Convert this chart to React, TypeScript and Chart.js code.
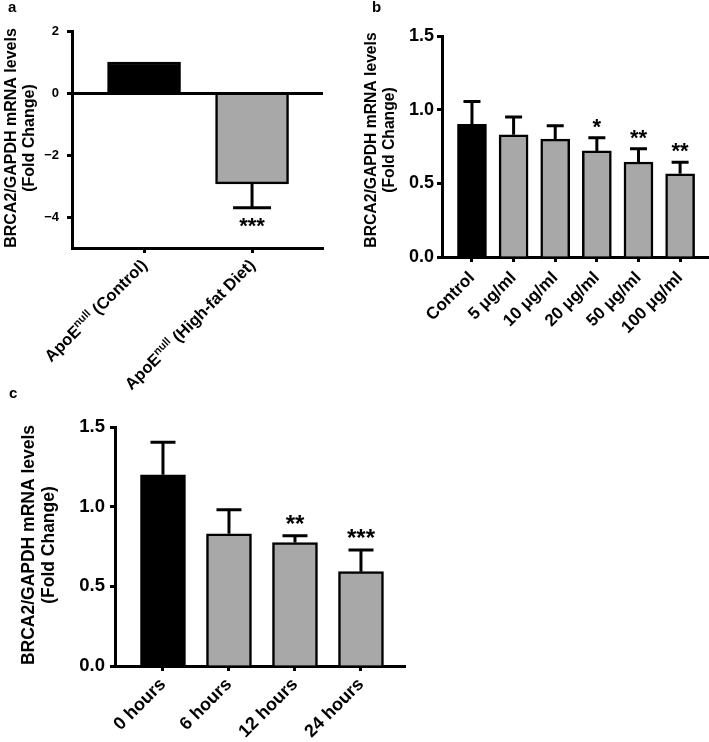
import React, { useEffect, useRef } from 'react';
import { Chart, registerables } from 'chart.js';

Chart.register(...registerables);

const FONT = '"Liberation Sans", Arial, Helvetica, sans-serif';
const GRAY = '#a8a8a8';

// ---------- Panel a ----------
const aLabelMain = ['ApoE', 'ApoE'];
const aLabelSup = ['null', 'null'];
const aLabelRest = [' (Control)', ' (High-fat Diet)'];
const aValues = [1.0, -2.93];
const aErrors = [0, 0.77];
const aStars = ['', '***'];
const aYTicks = [2, 0, -2, -4];

// ---------- Panel b ----------
const bCategories = ['Control', '5 μg/ml', '10 μg/ml', '20 μg/ml', '50 μg/ml', '100 μg/ml'];
const bValues = [0.9, 0.83, 0.8, 0.72, 0.645, 0.565];
const bErrors = [0.155, 0.12, 0.09, 0.09, 0.09, 0.078];
const bStars = ['', '', '', '*', '**', '**'];
const bYTicks = [0, 0.5, 1.0, 1.5];

// ---------- Panel c ----------
const cCategories = ['0 hours', '6 hours', '12 hours', '24 hours'];
const cValues = [1.2, 0.83, 0.775, 0.592];
const cErrors = [0.205, 0.15, 0.042, 0.136];
const cStars = ['', '', '**', '***'];
const cYTicks = [0, 0.5, 1.0, 1.5];

const TITLE_LINES = ['BRCA2/GAPDH mRNA levels', '(Fold Change)'];

type Spec = {
  x: number; y: number; w: number; h: number;
  area: { l: number; r: number; t: number; b: number };
  xMin: number; xMax: number; yMin: number; yMax: number;
  yTicks: number[];
  yFmt: (v: number) => string;
  values: number[]; errors: number[]; stars: string[];
  xLabels: string[] | null;
  custom?: { main: string[]; sup: string[]; rest: string[]; size: number; supSize: number; dx: number; dy: number };
  barWidth: number; barBorder: number; capWidth: number;
  tickSize: number; yTickPad: number; xTickSize: number; xTickPad: number;
  starSize: number; starGap: number;
  titleSize: number; titleX: [number, number]; titleCY: number;
  letter: string; letterX: number; letterY: number;
  zeroLine: boolean;
};

function makeDeco(s: Spec) {
  return {
    id: 'panelDeco',
    afterDatasetsDraw(chart: any) {
      const ctx: CanvasRenderingContext2D = chart.ctx;
      const ys = chart.scales.y;
      const area = chart.chartArea;
      ctx.save();
      ctx.strokeStyle = '#000';
      ctx.fillStyle = '#000';
      if (s.zeroLine) {
        const y0 = Math.round(ys.getPixelForValue(0)) + 0.5;
        ctx.lineWidth = 3;
        ctx.beginPath();
        ctx.moveTo(area.left, y0);
        ctx.lineTo(area.right, y0);
        ctx.stroke();
      }
      const meta = chart.getDatasetMeta(0);
      meta.data.forEach((el: any, i: number) => {
        const v = s.values[i];
        const e = s.errors[i];
        const dir = v >= 0 ? 1 : -1;
        const x = el.x;
        const yTop = ys.getPixelForValue(v);
        const yErr = ys.getPixelForValue(v + dir * e);
        if (e > 0) {
          ctx.lineWidth = 3;
          ctx.beginPath();
          ctx.moveTo(x, yTop);
          ctx.lineTo(x, yErr);
          ctx.moveTo(x - s.capWidth / 2, yErr);
          ctx.lineTo(x + s.capWidth / 2, yErr);
          ctx.stroke();
        }
        const st = s.stars[i];
        if (st) {
          ctx.font = `bold ${s.starSize}px ${FONT}`;
          ctx.textAlign = 'center';
          ctx.textBaseline = 'alphabetic';
          const m = ctx.measureText(st);
          if (dir > 0) {
            const bottom = yErr - s.starGap;
            ctx.fillText(st, x, bottom - m.actualBoundingBoxDescent);
          } else {
            const top = yErr + s.starGap;
            ctx.fillText(st, x, top + m.actualBoundingBoxAscent);
          }
        }
      });
      ctx.restore();
    },
    afterDraw(chart: any) {
      const ctx: CanvasRenderingContext2D = chart.ctx;
      ctx.save();
      ctx.fillStyle = '#000';
      // axis title
      ctx.font = `bold ${s.titleSize}px ${FONT}`;
      ctx.textAlign = 'center';
      ctx.textBaseline = 'middle';
      TITLE_LINES.forEach((t, k) => {
        ctx.save();
        ctx.translate(s.titleX[k], s.titleCY);
        ctx.rotate(-Math.PI / 2);
        ctx.fillText(t, 0, 0);
        ctx.restore();
      });
      // panel letter
      ctx.font = `bold 15px ${FONT}`;
      ctx.textAlign = 'left';
      ctx.textBaseline = 'alphabetic';
      ctx.fillText(s.letter, s.letterX, s.letterY);
      // custom rotated labels with superscript
      if (s.custom) {
        const c = s.custom;
        const xs = chart.scales.x;
        const bottom = chart.chartArea.bottom;
        c.main.forEach((mainT, i) => {
          const px = xs.getPixelForValue(i);
          ctx.save();
          ctx.translate(px + c.dx, bottom + c.dy);
          ctx.rotate(-Math.PI / 4);
          ctx.textBaseline = 'alphabetic';
          ctx.textAlign = 'right';
          ctx.font = `bold ${c.size}px ${FONT}`;
          const wRest = ctx.measureText(c.rest[i]).width;
          ctx.fillText(c.rest[i], 0, 0);
          ctx.font = `bold ${c.supSize}px ${FONT}`;
          const wSup = ctx.measureText(c.sup[i]).width;
          ctx.fillText(c.sup[i], -wRest, -c.size * 0.38);
          ctx.font = `bold ${c.size}px ${FONT}`;
          ctx.fillText(mainT, -wRest - wSup, 0);
          ctx.restore();
        });
      }
      ctx.restore();
    },
  };
}

function buildConfig(s: Spec): any {
  const data = s.values.map((v, i) => ({ x: i, y: v }));
  return {
    type: 'bar',
    data: {
      datasets: [
        {
          data,
          backgroundColor: s.values.map((_, i) => (i === 0 ? '#000000' : GRAY)),
          borderColor: '#000000',
          borderWidth: s.barBorder,
          barThickness: s.barWidth,
        },
      ],
    },
    options: {
      responsive: false,
      animation: false,
      devicePixelRatio: 1,
      layout: { padding: { left: 0, top: s.area.t, right: s.w - s.area.r, bottom: 0 } },
      plugins: { legend: { display: false }, tooltip: { enabled: false }, title: { display: false } },
      scales: {
        x: {
          type: 'linear',
          min: s.xMin,
          max: s.xMax,
          offset: false,
          afterFit: (sc: any) => { sc.height = s.h - s.area.b; },
          afterBuildTicks: (sc: any) => { sc.ticks = s.values.map((_, i) => ({ value: i })); },
          grid: { offset: false, drawOnChartArea: false, drawTicks: true, tickLength: 5, tickWidth: 3, tickColor: '#000' },
          border: { display: true, width: 3, color: '#000' },
          ticks: {
            autoSkip: false,
            minRotation: 45,
            maxRotation: 45,
            padding: s.xTickPad,
            color: '#000',
            font: { family: FONT, size: s.xTickSize, weight: 'bold' },
            callback: (_v: any, i: number) => (s.xLabels ? s.xLabels[i] ?? '' : ''),
          },
        },
        y: {
          type: 'linear',
          min: s.yMin,
          max: s.yMax,
          afterFit: (sc: any) => { sc.width = s.area.l; },
          afterBuildTicks: (sc: any) => { sc.ticks = s.yTicks.map((v) => ({ value: v })); },
          grid: { drawOnChartArea: false, drawTicks: true, tickLength: 5, tickWidth: 3, tickColor: '#000' },
          border: { display: true, width: 3, color: '#000' },
          ticks: {
            padding: s.yTickPad,
            color: '#000',
            font: { family: FONT, size: s.tickSize, weight: 'bold' },
            callback: (v: any) => s.yFmt(Number(v)),
          },
        },
      },
    },
    plugins: [makeDeco(s)],
  };
}

const specA: Spec = {
  x: 0, y: 0, w: 360, h: 400,
  area: { l: 72, r: 323, t: 31, b: 248 },
  xMin: -0.667, xMax: 1.657, yMin: -5, yMax: 2,
  yTicks: aYTicks,
  yFmt: (v) => (v < 0 ? '\u2212' + Math.abs(v) : String(v)),
  values: aValues, errors: aErrors, stars: aStars,
  xLabels: null,
  custom: { main: aLabelMain, sup: aLabelSup, rest: aLabelRest, size: 16.5, supSize: 11, dx: 4, dy: 18 },
  barWidth: 73, barBorder: 2.5, capWidth: 38,
  tickSize: 13, yTickPad: 8, xTickSize: 15, xTickPad: 2,
  starSize: 22, starGap: 10,
  titleSize: 16, titleX: [12, 30], titleCY: 138,
  letter: 'a', letterX: 8, letterY: 12,
  zeroLine: true,
};

const specB: Spec = {
  x: 360, y: 0, w: 349, h: 380,
  area: { l: 82, r: 348, t: 36, b: 257 },
  xMin: -0.72, xMax: 5.67, yMin: 0, yMax: 1.5,
  yTicks: bYTicks,
  yFmt: (v) => v.toFixed(1),
  values: bValues, errors: bErrors, stars: bStars,
  xLabels: bCategories,
  barWidth: 29, barBorder: 2.5, capWidth: 17,
  tickSize: 18, yTickPad: 3, xTickSize: 17, xTickPad: 6,
  starSize: 22, starGap: 10,
  titleSize: 15.7, titleX: [12, 30], titleCY: 140,
  letter: 'b', letterX: 12, letterY: 12,
  zeroLine: false,
};

const specC: Spec = {
  x: 0, y: 380, w: 420, h: 362,
  area: { l: 115, r: 405, t: 47, b: 286 },
  xMin: -0.727, xMax: 3.667, yMin: 0, yMax: 1.5,
  yTicks: cYTicks,
  yFmt: (v) => v.toFixed(1),
  values: cValues, errors: cErrors, stars: cStars,
  xLabels: cCategories,
  barWidth: 45, barBorder: 2.5, capWidth: 25,
  tickSize: 18.5, yTickPad: 5, xTickSize: 18, xTickPad: 3,
  starSize: 24, starGap: 12,
  titleSize: 17.5, titleX: [29, 49], titleCY: 165,
  letter: 'c', letterX: 9, letterY: 18,
  zeroLine: false,
};

function Panel({ spec }: { spec: Spec }) {
  const ref = useRef<HTMLCanvasElement>(null);
  useEffect(() => {
    const chart = new Chart(ref.current as HTMLCanvasElement, buildConfig(spec));
    return () => chart.destroy();
  }, [spec]);
  return (
    <canvas
      ref={ref}
      width={spec.w}
      height={spec.h}
      style={{ position: 'absolute', left: spec.x, top: spec.y, width: spec.w, height: spec.h }}
    />
  );
}

export default function App() {
  return (
    <div style={{ position: 'absolute', left: 0, top: 0, width: 709, height: 742, background: '#fff', overflow: 'hidden' }}>
      <Panel spec={specA} />
      <Panel spec={specB} />
      <Panel spec={specC} />
    </div>
  );
}
